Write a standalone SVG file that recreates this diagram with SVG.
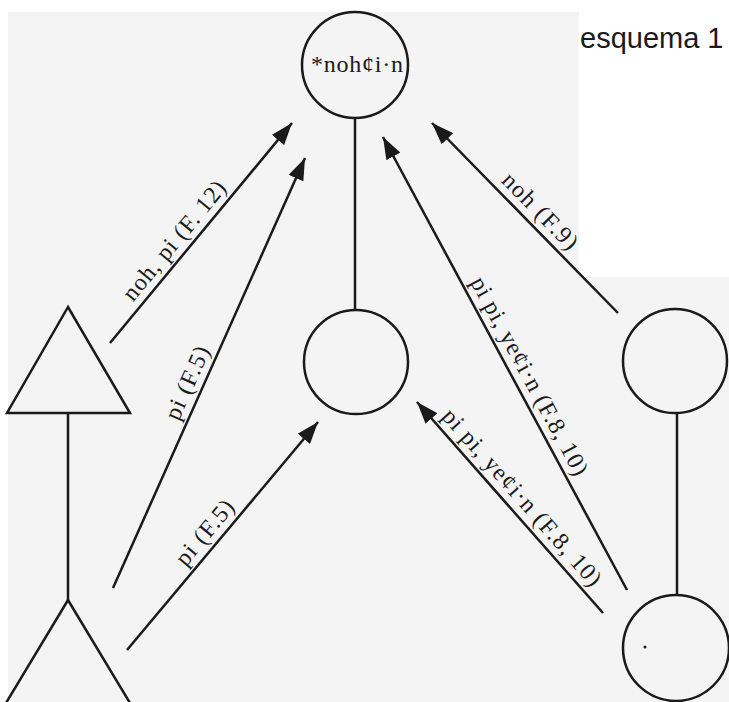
<svg xmlns="http://www.w3.org/2000/svg" width="729" height="702" viewBox="0 0 729 702">
<style>
.ln{stroke:#1a1a1a;stroke-width:2.5;fill:none;stroke-linecap:butt;stroke-linejoin:miter}
.nd{stroke:#1a1a1a;stroke-width:2.5;fill:none}
.lb{font-family:"Liberation Serif","DejaVu Serif",serif;font-size:24px;fill:#1a1a1a}
.ttl{font-family:"Liberation Sans",Arial,sans-serif;font-size:29px;fill:#1a1a1a}
</style>
<defs>
<marker id="ah" viewBox="0 0 22 16" refX="22" refY="8" markerWidth="22" markerHeight="16" orient="auto" markerUnits="userSpaceOnUse">
<path d="M0,0 L22,8 L0,16 z" fill="#1a1a1a"/>
</marker>
</defs>
<rect x="0" y="0" width="729" height="702" fill="#ffffff"/>
<rect x="8" y="12" width="721" height="690" fill="#f4f4f4"/>
<rect x="579" y="0" width="150" height="277" fill="#ffffff"/>

<g id="title"><text class="ttl" x="580" y="48">esquema 1</text></g>

<g id="connectors">
<line class="ln" x1="355" y1="118" x2="355" y2="310"/>
<line class="ln" x1="677" y1="413" x2="677" y2="595"/>
<line class="ln" x1="68" y1="413" x2="68" y2="600"/>
<line class="ln" x1="110" y1="343" x2="292" y2="123" marker-end="url(#ah)"/>
<line class="ln" x1="113" y1="588" x2="305" y2="158" marker-end="url(#ah)"/>
<line class="ln" x1="127" y1="650" x2="318" y2="422" marker-end="url(#ah)"/>
<line class="ln" x1="618" y1="313" x2="432" y2="123" marker-end="url(#ah)"/>
<line class="ln" x1="627" y1="590" x2="383" y2="137" marker-end="url(#ah)"/>
<line class="ln" x1="603" y1="613" x2="417" y2="402" marker-end="url(#ah)"/>
<text class="lb" transform="translate(133.1,302.5) rotate(-50.4)" textLength="148" lengthAdjust="spacing">noh, pi (F. 12)</text>
<text class="lb" transform="translate(178.5,421.7) rotate(-65.9)" textLength="78" lengthAdjust="spacing">pi (F.5)</text>
<text class="lb" transform="translate(185.7,567.4) rotate(-50.1)" textLength="78" lengthAdjust="spacing">pi (F.5)</text>
<text class="lb" transform="translate(500.4,181.5) rotate(45.6)" textLength="98" lengthAdjust="spacing">noh (F.9)</text>
<text class="lb" transform="translate(470.1,282) rotate(61.7)" textLength="222" lengthAdjust="spacing">pi pi, yeȼi·n (F.8, 10)</text>
<text class="lb" transform="translate(440.8,417) rotate(48.6)" textLength="228" lengthAdjust="spacing">pi pi, yeȼi·n (F.8, 10)</text>
</g>

<g id="node-ego">
<circle class="nd" cx="355" cy="65" r="53"/>
<text class="lb" x="357" y="72" text-anchor="middle" textLength="92" lengthAdjust="spacing">*nohȼi·n</text>
</g>
<g id="node-middle"><circle class="nd" cx="356" cy="362" r="52"/></g>
<g id="node-right-top"><circle class="nd" cx="675" cy="361" r="52"/></g>
<g id="node-right-bottom"><circle class="nd" cx="676" cy="648" r="53"/><circle cx="645" cy="647" r="1.5" fill="#1a1a1a"/></g>
<g id="node-left-top"><polygon class="nd" points="68,307 7,413 130,413"/></g>
<g id="node-left-bottom"><polyline class="nd" points="6,703 68,600 130,703"/></g>
</svg>
